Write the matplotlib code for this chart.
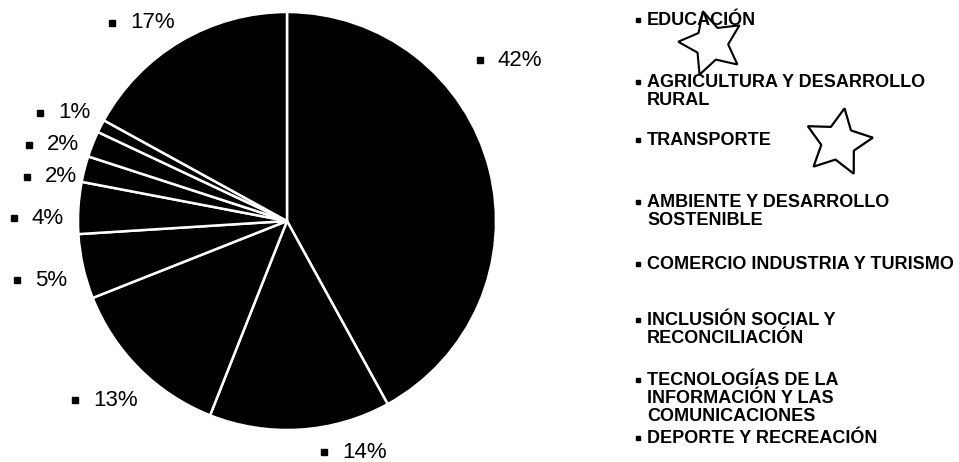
import matplotlib
matplotlib.use("Agg")
import matplotlib.pyplot as plt

plt.rcParams['font.family'] = ['Liberation Sans', 'DejaVu Sans']

W, H = 959, 462

# shares per sector, clockwise from 12 o'clock
shares = [42, 14, 13, 5, 4, 2, 2, 1, 17]
pct_labels = ["42%", "14%", "13%", "5%", "4%", "2%", "2%", "1%", "17%"]
# where each percentage label starts (pixels from top-left)
label_pos = [(498, 60), (342, 452), (93, 400), (35, 280), (32, 218),
             (45, 177), (47, 145), (58, 113), (130, 23)]

sectors = ["EDUCACIÓN",
           "AGRICULTURA Y DESARROLLO\nRURAL",
           "TRANSPORTE",
           "AMBIENTE Y DESARROLLO\nSOSTENIBLE",
           "COMERCIO INDUSTRIA Y TURISMO",
           "INCLUSIÓN SOCIAL Y\nRECONCILIACIÓN",
           "TECNOLOGÍAS DE LA\nINFORMACIÓN Y LAS\nCOMUNICACIONES",
           "DEPORTE Y RECREACIÓN"]
sector_y = [20, 82, 140, 202, 264, 320, 380, 438]

fig = plt.figure(figsize=(W / 100, H / 100), dpi=100)
ax = fig.add_axes([0, 0, 1, 1])
ax.axis('off')

ax.pie(shares, center=(287, H - 221), radius=209, startangle=90,
       counterclock=False, colors=['black'] * len(shares),
       wedgeprops=dict(edgecolor='white', linewidth=1.8))
ax.set_xlim(0, W)
ax.set_ylim(0, H)
ax.set_aspect('equal')

for txt, (x, y) in zip(pct_labels, label_pos):
    ax.plot(x - 18, H - y, marker='s', color='black', markersize=4.3)
    ax.text(x, H - y, txt, fontsize=16, va='center', ha='left')

for txt, y in zip(sectors, sector_y):
    ax.plot(638, H - y, marker='s', color='black', markersize=3)
    ax.text(647, H - y + 8, txt, fontsize=13, fontweight='bold', va='top',
            ha='left', linespacing=1.08)

# hand-drawn stars next to the legend
ax.plot(711, H - 43, marker=(5, 1, 15), markersize=48, markerfacecolor='none',
        markeredgecolor='black', markeredgewidth=1.5)
ax.plot(838, H - 142, marker=(5, 1, -10), markersize=50, markerfacecolor='none',
        markeredgecolor='black', markeredgewidth=1.6)

fig.savefig("out.png", dpi=100)
